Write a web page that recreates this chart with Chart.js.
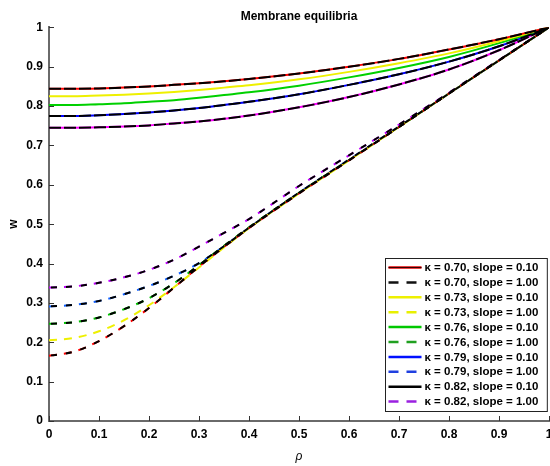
<!DOCTYPE html>
<html>
<head>
<meta charset="utf-8">
<title>Membrane equilibria</title>
<script src="https://cdn.jsdelivr.net/npm/chart.js@4/dist/chart.umd.min.js"></script>
<style>
  html, body { margin: 0; padding: 0; background: #fff; }
  #wrap { width: 550px; height: 466px; }
</style>
</head>
<body>
<div id="wrap"><canvas id="chart" width="550" height="466"></canvas></div>
<script>
// radial coordinate samples shared by every curve
const rho = [0, 0.05, 0.1, 0.15, 0.2, 0.25, 0.3, 0.35, 0.4, 0.5, 0.6, 0.7, 0.8, 0.9, 1];

const kappas = ['0.70', '0.73', '0.76', '0.79', '0.82'];
const slopes = ['0.10', '1.00'];

// slope = 0.10 (solid)
const wK070S010 = [0.844, 0.844, 0.845, 0.847, 0.850, 0.854, 0.858, 0.863, 0.869, 0.883, 0.900, 0.920, 0.944, 0.970, 1];
const wK073S010 = [0.825, 0.825, 0.827, 0.829, 0.832, 0.836, 0.841, 0.847, 0.853, 0.868, 0.887, 0.909, 0.934, 0.965, 1];
const wK076S010 = [0.803, 0.803, 0.805, 0.807, 0.811, 0.815, 0.821, 0.828, 0.835, 0.852, 0.873, 0.897, 0.925, 0.960, 1];
const wK079S010 = [0.775, 0.775, 0.777, 0.780, 0.784, 0.789, 0.795, 0.803, 0.811, 0.830, 0.854, 0.881, 0.913, 0.952, 1];
const wK082S010 = [0.745, 0.745, 0.746, 0.748, 0.751, 0.756, 0.761, 0.768, 0.776, 0.797, 0.823, 0.855, 0.893, 0.942, 1];

// slope = 1.00 (dashed)
const wK070S100 = [0.166, 0.176, 0.203, 0.241, 0.287, 0.339, 0.392, 0.442, 0.490, 0.578, 0.662, 0.747, 0.832, 0.916, 1];
const wK073S100 = [0.205, 0.211, 0.228, 0.256, 0.294, 0.340, 0.390, 0.441, 0.490, 0.578, 0.662, 0.747, 0.832, 0.916, 1];
const wK076S100 = [0.247, 0.251, 0.263, 0.284, 0.312, 0.350, 0.396, 0.445, 0.492, 0.580, 0.663, 0.747, 0.832, 0.916, 1];
const wK079S100 = [0.291, 0.295, 0.305, 0.322, 0.343, 0.369, 0.401, 0.444, 0.491, 0.580, 0.664, 0.748, 0.832, 0.916, 1];
const wK082S100 = [0.339, 0.342, 0.351, 0.365, 0.384, 0.410, 0.443, 0.478, 0.513, 0.597, 0.675, 0.753, 0.834, 0.917, 1];

const FONT = '"Liberation Sans", Arial, Helvetica, sans-serif';

// curve styling: colour per kappa, plus whether a black line is laid over it
const curves = [
    { w: wK070S010, color: '#ff0000', dashed: false, black: true },
    { w: wK070S100, color: '#ff0000', dashed: true,  black: true },
    { w: wK073S010, color: '#eef000', dashed: false, black: false },
    { w: wK073S100, color: '#eef000', dashed: true,  black: false },
    { w: wK076S010, color: '#00d000', dashed: false, black: false },
    { w: wK076S100, color: '#00c000', dashed: true,  black: true },
    { w: wK079S010, color: '#0000ff', dashed: false, black: true },
    { w: wK079S100, color: '#1060ff', dashed: true,  black: true },
    { w: wK082S010, color: '#ff00ff', dashed: false, black: true },
    { w: wK082S100, color: '#c000ff', dashed: true,  black: true }
];

// legend swatches
const legendColors = ['#e00000', '#111111', '#eef000', '#e8f000', '#00c800', '#20a020', '#0010ff', '#2040e0', '#000000', '#9a20e0'];
const legendLabels = [];
kappas.forEach(k => slopes.forEach(s => legendLabels.push('\u03ba = ' + k + ', slope = ' + s)));

const toPoints = w => rho.map((r, i) => ({ x: r, y: w[i] }));

const datasets = [];
curves.forEach(c => {
    datasets.push({
        data: toPoints(c.w),
        borderColor: c.color,
        borderWidth: 2,
        borderDash: c.dashed ? [8, 7] : [],
        order: 2
    });
    if (c.black) {
        datasets.push({
            data: toPoints(c.w),
            borderColor: '#000000',
            borderWidth: 2,
            borderDash: c.dashed ? [6, 9] : [12, 3],
            borderDashOffset: c.dashed ? -2 : 0,
            order: 1
        });
    }
});

// small inward tick marks on both axes
const innerTicks = {
    id: 'innerTicks',
    afterDraw(chart) {
        const { ctx, chartArea: a, scales: { x, y } } = chart;
        ctx.save();
        ctx.strokeStyle = '#333';
        ctx.lineWidth = 1;
        ctx.beginPath();
        x.ticks.forEach(t => {
            const px = Math.round(x.getPixelForValue(t.value)) + 0.5;
            ctx.moveTo(px, a.bottom);
            ctx.lineTo(px, a.bottom - 5);
        });
        y.ticks.forEach(t => {
            const py = Math.round(y.getPixelForValue(t.value)) + 0.5;
            ctx.moveTo(a.left, py);
            ctx.lineTo(a.left + 5, py);
        });
        ctx.stroke();
        ctx.restore();
    }
};

// boxed legend in the lower right corner of the plot
const boxLegend = {
    id: 'boxLegend',
    afterDraw(chart) {
        const { ctx, chartArea: a } = chart;
        ctx.save();
        ctx.font = 'bold 11.5px ' + FONT;
        const rowH = 14.9, lineLen = 33;
        const textW = Math.max(...legendLabels.map(l => ctx.measureText(l).width));
        const boxW = 3 + lineLen + 3 + textW + 9;
        const boxH = legendLabels.length * rowH + 4;
        const x0 = Math.round(a.right - 2 - boxW) + 0.5;
        const y0 = Math.round(a.bottom - 10 - boxH) + 0.5;

        ctx.fillStyle = '#fff';
        ctx.fillRect(x0, y0, boxW, boxH);
        ctx.strokeStyle = '#222';
        ctx.lineWidth = 1;
        ctx.strokeRect(x0, y0, boxW, boxH);

        legendLabels.forEach((label, i) => {
            const cy = y0 + 9 + i * rowH;
            const dashed = i % 2 === 1;
            ctx.setLineDash(dashed ? [10, 8] : []);
            ctx.strokeStyle = legendColors[i];
            ctx.lineWidth = 2.5;
            ctx.beginPath();
            ctx.moveTo(x0 + 3, cy);
            ctx.lineTo(x0 + 3 + (dashed ? 29 : lineLen), cy);
            ctx.stroke();
            if (i === 0) {
                ctx.setLineDash([]);
                ctx.strokeStyle = '#300';
                ctx.lineWidth = 1;
                ctx.beginPath();
                ctx.moveTo(x0 + 3, cy);
                ctx.lineTo(x0 + 3 + lineLen, cy);
                ctx.stroke();
            }
            ctx.setLineDash([]);
            ctx.fillStyle = '#000';
            ctx.textBaseline = 'middle';
            ctx.textAlign = 'left';
            ctx.fillText(label, x0 + 3 + lineLen + 3, cy + 0.5);
        });
        ctx.restore();
    }
};

const tickFont = { family: FONT, size: 12, weight: 'bold' };
// 0, 0.1, ..., 1 without trailing zeros
const tickLabel = v => String(Number(v.toFixed(1)));

new Chart(document.getElementById('chart'), {
    type: 'line',
    data: { datasets },
    options: {
        animation: false,
        responsive: false,
        devicePixelRatio: 1,
        layout: { padding: { right: 1 } },
        elements: {
            point: { radius: 0 },
            line: { cubicInterpolationMode: 'monotone', fill: false }
        },
        scales: {
            x: {
                type: 'linear',
                min: 0,
                max: 1,
                grid: { display: false, drawTicks: false },
                border: { display: true, color: '#6a6a6a', width: 2 },
                ticks: {
                    stepSize: 0.1,
                    autoSkip: false,
                    maxRotation: 0,
                    color: '#000',
                    font: tickFont,
                    padding: 6,
                    callback: tickLabel
                },
                title: {
                    display: true,
                    text: '\u03c1',
                    color: '#000',
                    font: { family: FONT, size: 12, style: 'italic' },
                    padding: { top: 0, bottom: 2 }
                },
                afterFit(scale) {
                    scale.height = 45;
                    scale.paddingLeft = 0;
                    scale.paddingRight = 0;
                }
            },
            y: {
                type: 'linear',
                min: 0,
                max: 1,
                grid: { display: false, drawTicks: false },
                border: { display: true, color: '#6a6a6a', width: 2 },
                ticks: {
                    stepSize: 0.1,
                    autoSkip: false,
                    color: '#000',
                    font: tickFont,
                    padding: 6,
                    callback: tickLabel
                },
                title: {
                    display: true,
                    text: 'w',
                    color: '#000',
                    font: { family: FONT, size: 12, weight: 'bold' },
                    padding: { top: 6, bottom: 0 }
                },
                afterFit(scale) {
                    scale.width = 49;
                }
            }
        },
        plugins: {
            legend: { display: false },
            tooltip: { enabled: false },
            title: {
                display: true,
                text: 'Membrane equilibria',
                color: '#000',
                fullSize: false,
                font: { family: FONT, size: 12, weight: 'bold' },
                padding: { top: 9, bottom: 4 }
            }
        }
    },
    plugins: [innerTicks, boxLegend]
});
</script>
</body>
</html>
